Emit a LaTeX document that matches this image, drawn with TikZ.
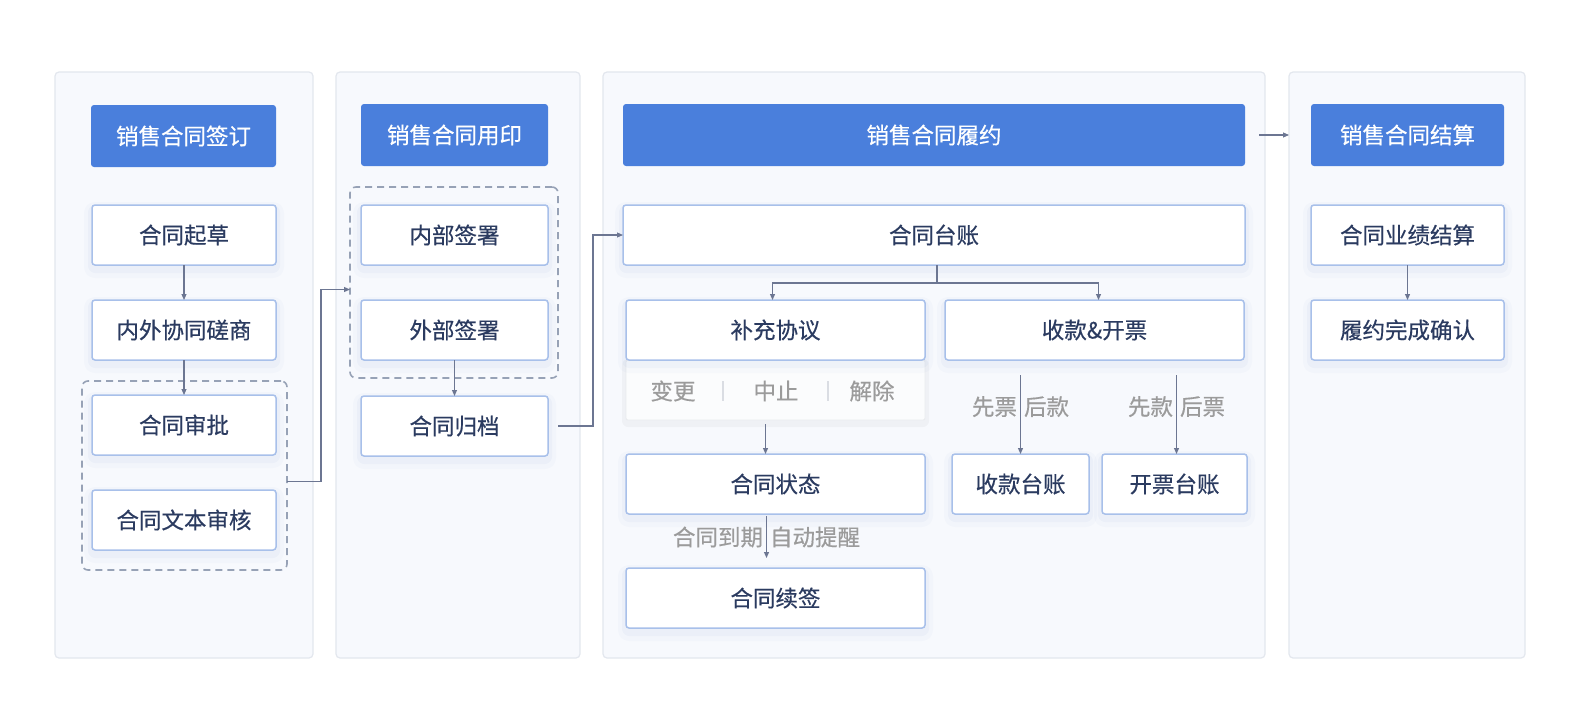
\documentclass[tikz,border=0pt]{standalone}
\usepackage{fontspec}
\setmainfont{Noto Sans CJK SC}[FakeBold=0.5]
\newfontfamily\medfont{Noto Sans CJK SC}[FakeBold=0.45]
\usetikzlibrary{arrows.meta,calc}
\definecolor{panelbg}{HTML}{F7F9FD}
\definecolor{panelline}{HTML}{E3E7EE}
\definecolor{headblue}{HTML}{4A7FDC}
\definecolor{boxline}{HTML}{A8C0EA}
\definecolor{txt}{HTML}{2B3B60}
\definecolor{graytxt}{HTML}{9B9B9B}
\definecolor{dashc}{HTML}{97A2B6}
\definecolor{arrc}{HTML}{6C7692}
\definecolor{shc}{HTML}{7C9BD6}
\definecolor{sepc}{HTML}{DADDE3}
\definecolor{subbg}{HTML}{FBFCFD}
\begin{document}
\begin{tikzpicture}[x=1pt,y=-1pt,
  font=\medfont\fontsize{22.5}{26}\selectfont,
  panel/.style={fill=panelbg, draw=panelline, line width=1.2pt, rounded corners=4pt},
  head/.style={fill=headblue, text=white, rounded corners=3pt, inner sep=0pt, outer sep=0pt, minimum height=62pt},
  box/.style={fill=white, draw=boxline, line width=1.5pt, text=txt, rounded corners=3pt,
     inner sep=0pt, outer sep=0pt, minimum height=60pt,
     preaction={draw=shc, draw opacity=0.04, line width=16pt, line join=round, transform canvas={yshift=-5pt}},
     preaction={draw=shc, draw opacity=0.06, line width=8pt, line join=round, transform canvas={yshift=-4pt}}},
  subpanel/.style={fill=subbg, draw=sepc!60, line width=0.8pt, inner sep=0pt, outer sep=0pt, rounded corners=2pt,
     preaction={draw=black, draw opacity=0.03, line width=8pt, line join=round, transform canvas={yshift=-3pt}}},
  grp/.style={draw=dashc, dash pattern=on 7pt off 5pt, line width=1.6pt, rounded corners=6pt, inner sep=0pt, outer sep=0pt},
  arr/.style={draw=arrc, line width=1.1pt, -{Triangle[length=6pt,width=5pt]}},
  lbl/.style={text=graytxt, inner sep=3pt},
]
\fill[white] (0,0) rectangle (1576,715);
\useasboundingbox (0,0) rectangle (1576,715);

% panels
\draw[panel] (55,72) rectangle (313,658);
\draw[panel] (336,72) rectangle (580,658);
\draw[panel] (603,72) rectangle (1265,658);
\draw[panel] (1289,72) rectangle (1525,658);

% headers
\node[head, minimum width=185pt] (h1) at (183.5,136) {销售合同签订};
\node[head, minimum width=187pt] (h2) at (454.5,135) {销售合同用印};
\node[head, minimum width=622pt] (h3) at (934,135) {销售合同履约};
\node[head, minimum width=193pt] (h4) at (1407.5,135) {销售合同结算};

% column 1
\node[box, minimum width=184pt] (a1) at (184,235) {合同起草};
\node[box, minimum width=184pt] (a2) at (184,330) {内外协同磋商};
\node[box, minimum width=184pt] (a3) at (184,425) {合同审批};
\node[box, minimum width=184pt] (a4) at (184,520) {合同文本审核};
\node[grp, minimum width=205pt, minimum height=189pt] (g1) at (184.5,475.5) {};

% column 2
\node[box, minimum width=187pt] (b1) at (454.5,235) {内部签署};
\node[box, minimum width=187pt] (b2) at (454.5,330) {外部签署};
\node[box, minimum width=187pt] (b3) at (454.5,426) {合同归档};
\node[grp, minimum width=208pt, minimum height=191pt] (g2) at (454,282.5) {};

% column 3
\node[box, minimum width=622pt] (c1) at (934,235) {合同台账};
\node[subpanel, minimum width=299pt, minimum height=60pt] (sp) at (775.5,390) {};
\node[box, minimum width=299pt] (c2) at (775.5,330) {补充协议};
\node[lbl] (s1) at (673,391) {变更};
\node[lbl] (s2) at (776,391) {中止};
\node[lbl] (s3) at (872,391) {解除};
\draw[sepc, line width=1.3pt] (723,381) -- (723,401);
\draw[sepc, line width=1.3pt] (828,381) -- (828,401);
\node[box, minimum width=299pt] (c3) at (775.5,484) {合同状态};
\node[box, minimum width=299pt] (c4) at (775.5,598) {合同续签};
\node[box, minimum width=299pt] (c5) at (1094.5,330) {收款\&开票};
\node[box, minimum width=137pt] (c6) at (1020.5,484) {收款台账};
\node[box, minimum width=145pt] (c7) at (1174.5,484) {开票台账};

% column 4
\node[box, minimum width=193pt] (d1) at (1407.5,235) {合同业绩结算};
\node[box, minimum width=193pt] (d2) at (1407.5,330) {履约完成确认};

% connectors
\draw[arr] (a1) -- (a2);
\draw[arr] (a2) -- (a3);
\draw[arr] ([yshift=-6pt]g1.east) -- ++(34,0) |- ([yshift=-7pt]g2.west);
\draw[arr] (b2) -- (b3);
\draw[arr] ([xshift=10pt]b3.east) -- ++(35,0) |- (c1.west);
\draw[arr] ([xshift=3pt]c1.south) -- ++(0,18) -| ([xshift=-3pt]c2.north);
\draw[arr] ([xshift=3pt]c1.south) -- ++(0,18) -| ([xshift=4pt]c5.north);
\draw[arr] ([shift={(-10,4)}]sp.south) -- ([xshift=-10pt]c3.north);
\draw[arr] ([shift={(-9,2)}]c3.south) -- ([shift={(-9,-10)}]c4.north)
   node[pos=0.5, left, lbl] {合同到期} node[pos=0.5, right, lbl] {自动提醒};
\draw[arr] ($(c5.south -| c6.north)+(0,15)$) -- (c6.north)
   node[pos=0.4, left, lbl] {先票} node[pos=0.4, right, lbl] {后款};
\draw[arr] ($(c5.south -| c7.north)+(2,15)$) -- ([xshift=2pt]c7.north)
   node[pos=0.4, left, lbl] {先款} node[pos=0.4, right, lbl] {后票};
\draw[arr] ([xshift=14pt]h3.east) -- ([xshift=-22pt]h4.west);
\draw[arr] (d1) -- (d2);
\end{tikzpicture}
\end{document}
